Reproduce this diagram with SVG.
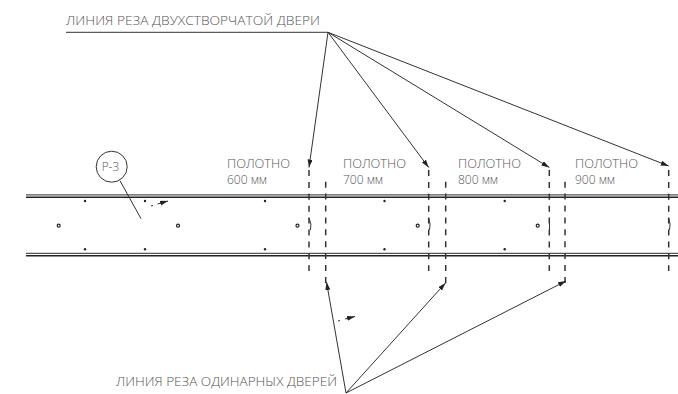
<svg xmlns="http://www.w3.org/2000/svg" width="678" height="394" viewBox="0 0 678 394">
<style>
text{font-family:"Open Sans","Liberation Sans",sans-serif;fill:#555;font-weight:300}
.t{font-size:13.500px}
.s{font-size:12.500px}
.rail{stroke:#222;stroke-width:1.500;fill:none}
.rail2{stroke:#555;stroke-width:1.300;fill:none}
.cut{stroke:#333;stroke-width:1.500;stroke-dasharray:6 5.900;fill:none}
.lead{stroke:#333;stroke-width:1;fill:none}
.ar{stroke:#333;stroke-width:1;fill:none;marker-end:url(#a)}
.dot{fill:#222}
.hole{fill:#fff;stroke:#222;stroke-width:1.200}
</style>
<defs><marker id="a" markerUnits="userSpaceOnUse" markerWidth="9" markerHeight="6" refX="8" refY="2.500" orient="auto"><path d="M0 0L8 2.500L0 5Z" fill="#222"/></marker></defs>
<g id="rails">
<path class="rail2" d="M26 194.800H678M26 253.400H678"/>
<path class="rail" d="M26 197.200H678M26 255.800H678"/>
</g>
<g id="fixings">
<g class="dot"><circle cx="85" cy="201" r="1.200"/><circle cx="145" cy="201" r="1.200"/><circle cx="265" cy="201" r="1.200"/><circle cx="384.500" cy="201" r="1.200"/><circle cx="504.700" cy="201" r="1.200"/><circle cx="85" cy="249.300" r="1.200"/><circle cx="145" cy="249.300" r="1.200"/><circle cx="265" cy="249.300" r="1.200"/><circle cx="384.500" cy="249.300" r="1.200"/><circle cx="504.700" cy="249.300" r="1.200"/></g>
<g class="hole"><circle cx="58.700" cy="225.700" r="1.500"/><circle cx="178" cy="225.700" r="1.500"/><circle cx="297.500" cy="225.700" r="1.500"/><circle cx="417.700" cy="225.700" r="1.500"/><circle cx="537.700" cy="225.700" r="1.500"/></g>
<path class="lead" d="M309 218Q312 224 310.500 230M428.700 218Q431 224 429.500 230M549.500 218V230M668.700 218Q671 224 669.500 230"/>
</g>
<g id="connectors">
<path class="cut" d="M309 170V271M325.700 181.700V283M428.700 170V271M445.700 181.700V283M549.300 170V271M565 181.700V283M668.700 170V271"/>
<path class="lead" d="M66 32.300H328"/>
<path class="ar" d="M328 32.300L309 167.500"/>
<path class="ar" d="M328 32.300L428.700 167.500"/>
<path class="ar" d="M328 32.300L549.300 167.500"/>
<path class="ar" d="M328 32.300L668.700 166"/>
<path class="ar" d="M346 393L326.500 282"/>
<path class="ar" d="M346 393L445.500 283"/>
<path class="ar" d="M346 393L566 281"/>
<path class="lead" d="M120 180.700L141 218.700"/>
<path class="lead" d="M151 206L153 205.500"/>
<path class="ar" d="M157.500 204L168 201"/>
<path class="lead" d="M338 321L340 320.500"/>
<path class="ar" d="M345 319L355 316.500"/>
</g>
<g id="p3"><circle cx="111.700" cy="166.700" r="15.500" fill="#fff" stroke="#333" stroke-width="1"/><text class="t" x="101.700" y="171.300" textLength="17.500" lengthAdjust="spacingAndGlyphs">P-3</text></g>
<g id="label-double"><text class="t" x="66" y="25" textLength="254" lengthAdjust="spacingAndGlyphs">ЛИНИЯ РЕЗА ДВУХСТВОРЧАТОЙ ДВЕРИ</text></g>
<g id="label-single"><text class="t" x="116" y="386" textLength="221" lengthAdjust="spacingAndGlyphs">ЛИНИЯ РЕЗА ОДИНАРНЫХ ДВЕРЕЙ</text></g>
<g id="w600"><text class="t" x="227" y="168" textLength="63" lengthAdjust="spacingAndGlyphs">ПОЛОТНО</text><text class="s" x="227" y="184.300" textLength="40" lengthAdjust="spacingAndGlyphs">600 мм</text></g>
<g id="w700"><text class="t" x="343" y="168" textLength="63" lengthAdjust="spacingAndGlyphs">ПОЛОТНО</text><text class="s" x="343" y="184.300" textLength="40" lengthAdjust="spacingAndGlyphs">700 мм</text></g>
<g id="w800"><text class="t" x="458" y="168" textLength="63" lengthAdjust="spacingAndGlyphs">ПОЛОТНО</text><text class="s" x="458" y="184.300" textLength="40" lengthAdjust="spacingAndGlyphs">800 мм</text></g>
<g id="w900"><text class="t" x="575" y="168" textLength="63" lengthAdjust="spacingAndGlyphs">ПОЛОТНО</text><text class="s" x="575" y="184.300" textLength="40" lengthAdjust="spacingAndGlyphs">900 мм</text></g>
</svg>
